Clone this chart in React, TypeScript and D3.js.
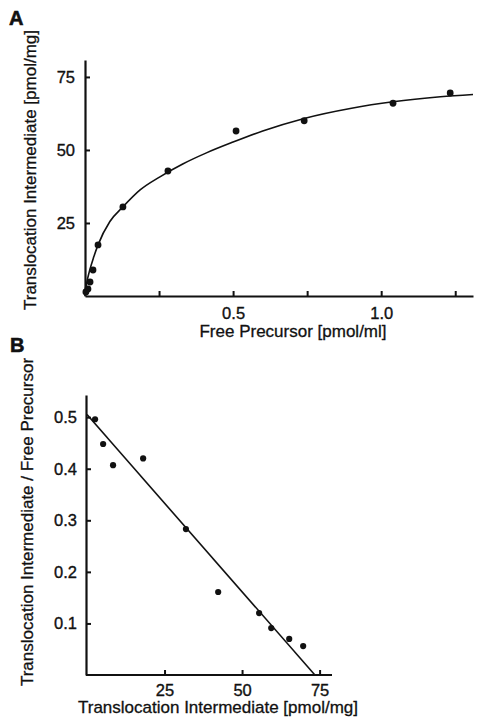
import { useEffect, useRef } from 'react';
import * as d3 from 'd3';

// Panel A: saturation binding
const freePrecursor = [0.003, 0.01, 0.017, 0.027, 0.044, 0.128, 0.28, 0.51, 0.74, 1.04, 1.233];
const boundA = [1.4, 2.4, 4.8, 8.9, 17.5, 30.5, 42.8, 56.5, 60, 66, 69.5];
// fitted curve
const fitX = [0, 0.005, 0.015, 0.03, 0.044, 0.084, 0.128, 0.186, 0.253, 0.33, 0.41, 0.5, 0.6, 0.74, 0.9, 1.04, 1.2, 1.31];
const fitY = [0, 4, 8.5, 13.5, 17.5, 25.5, 30.5, 36.3, 40.8, 45.2, 49, 52.7, 56.5, 60.8, 64.3, 66.5, 68.2, 69];
const ticksAX = [0.25, 0.5, 0.75, 1.0, 1.25];
const labelsAX = [0.5, 1.0];
const ticksAY = [25, 50, 75];

// Panel B: Scatchard plot
const boundB = [2.6, 5.2, 8.4, 18.1, 31.9, 42.3, 55.5, 59.4, 65.2, 69.7];
const ratioB = [0.496, 0.448, 0.407, 0.42, 0.283, 0.161, 0.12, 0.091, 0.07, 0.056];
const lineBX = [0, 73.5];
const lineBY = [0.505, 0];
const ticksBX = [25, 50, 75];
const ticksBY = [0.1, 0.2, 0.3, 0.4, 0.5];

const FONT = "'Liberation Sans', Arial, Helvetica, sans-serif";
const INK = '#111';

export default function App() {
  const svgRef = useRef<SVGSVGElement | null>(null);

  useEffect(() => {
    if (!svgRef.current) return;
    const svg = d3.select(svgRef.current);
    svg.selectAll('*').remove();
    svg.attr('font-family', FONT);

    const styleAxis = (g: d3.Selection<SVGGElement, unknown, null, undefined>) => {
      g.select('.domain').attr('stroke-width', 2.2).attr('stroke', INK);
      g.selectAll('.tick line').attr('stroke-width', 2).attr('stroke', INK);
      g.selectAll('.tick text')
        .attr('font-size', 16.5).attr('font-family', FONT).attr('fill', INK)
        .attr('stroke', INK).attr('stroke-width', 0.35);
    };

    const label = (sel: d3.Selection<SVGTextElement, unknown, null, undefined>) =>
      sel.attr('text-anchor', 'middle').attr('font-size', 17).attr('fill', INK)
        .attr('stroke', INK).attr('stroke-width', 0.3);

    // ---------- Panel A ----------
    const xA = d3.scaleLinear().domain([0, 1.31]).range([85, 473]);
    const yA = d3.scaleLinear().domain([0, 80.8]).range([296, 60]);

    const axA = svg.append('g')
      .attr('transform', `translate(0,${yA(0)})`)
      .call(d3.axisBottom(xA).tickValues(ticksAX).tickSize(-5).tickSizeOuter(0).tickPadding(11)
        .tickFormat(d => (labelsAX.includes(+d) ? d3.format('.1f')(+d) : '')));
    styleAxis(axA);

    const ayA = svg.append('g')
      .attr('transform', `translate(${xA(0)},0)`)
      .call(d3.axisLeft(yA).tickValues(ticksAY).tickSize(-5).tickSizeOuter(0).tickPadding(10));
    styleAxis(ayA);

    const fit = fitX.map((x, i) => [x, fitY[i]] as [number, number]);
    svg.append('path')
      .datum(fit)
      .attr('fill', 'none')
      .attr('stroke', INK)
      .attr('stroke-width', 1.6)
      .attr('d', d3.line<[number, number]>().x(d => xA(d[0])).y(d => yA(d[1])).curve(d3.curveMonotoneX));

    svg.append('g')
      .selectAll('circle')
      .data(freePrecursor)
      .join('circle')
      .attr('cx', d => xA(d))
      .attr('cy', (d, i) => yA(boundA[i]))
      .attr('r', 3.4)
      .attr('fill', INK);

    svg.append('text')
      .attr('x', 293).attr('y', 337)
      .call(label)
      .text('Free Precursor [pmol/ml]');

    svg.append('text')
      .attr('transform', `translate(36,170) rotate(-90)`)
      .call(label)
      .text('Translocation Intermediate [pmol/mg]');

    svg.append('text')
      .attr('x', 9).attr('y', 25)
      .attr('font-size', 20).attr('font-weight', 'bold').attr('fill', INK)
      .attr('stroke', INK).attr('stroke-width', 0.6)
      .text('A');

    // ---------- Panel B ----------
    const xB = d3.scaleLinear().domain([0, 79]).range([87, 332]);
    const yB = d3.scaleLinear().domain([0, 0.543]).range([675, 395]);

    const axB = svg.append('g')
      .attr('transform', `translate(0,${yB(0)})`)
      .call(d3.axisBottom(xB).tickValues(ticksBX).tickSize(-5).tickSizeOuter(0).tickPadding(9)
        .tickFormat(d3.format('d')));
    styleAxis(axB);
    axB.select('.domain').attr('d', `M${xB(0) - 1},0H${xB(79)}`);

    const ayB = svg.append('g')
      .attr('transform', `translate(${xB(0) - 1},0)`)
      .call(d3.axisLeft(yB).tickValues(ticksBY).tickSize(-5).tickSizeOuter(0).tickPadding(9)
        .tickFormat(d3.format('.1f')));
    styleAxis(ayB);

    svg.append('line')
      .attr('x1', xB(lineBX[0])).attr('y1', yB(lineBY[0]))
      .attr('x2', xB(lineBX[1])).attr('y2', yB(lineBY[1]))
      .attr('stroke', INK).attr('stroke-width', 1.6);

    svg.append('g')
      .selectAll('circle')
      .data(boundB)
      .join('circle')
      .attr('cx', d => xB(d))
      .attr('cy', (d, i) => yB(ratioB[i]))
      .attr('r', 3.1)
      .attr('fill', INK);

    svg.append('text')
      .attr('x', 218).attr('y', 713)
      .call(label)
      .text('Translocation Intermediate [pmol/mg]');

    svg.append('text')
      .attr('transform', `translate(33,522) rotate(-90)`)
      .call(label)
      .text('Translocation Intermediate / Free Precursor');

    svg.append('text')
      .attr('x', 10).attr('y', 352)
      .attr('font-size', 20).attr('font-weight', 'bold').attr('fill', INK)
      .attr('stroke', INK).attr('stroke-width', 0.6)
      .text('B');
  }, []);

  return (
    <svg
      ref={svgRef}
      width={477}
      height={717}
      style={{ position: 'absolute', left: 0, top: 0, background: '#fff' }}
    />
  );
}
